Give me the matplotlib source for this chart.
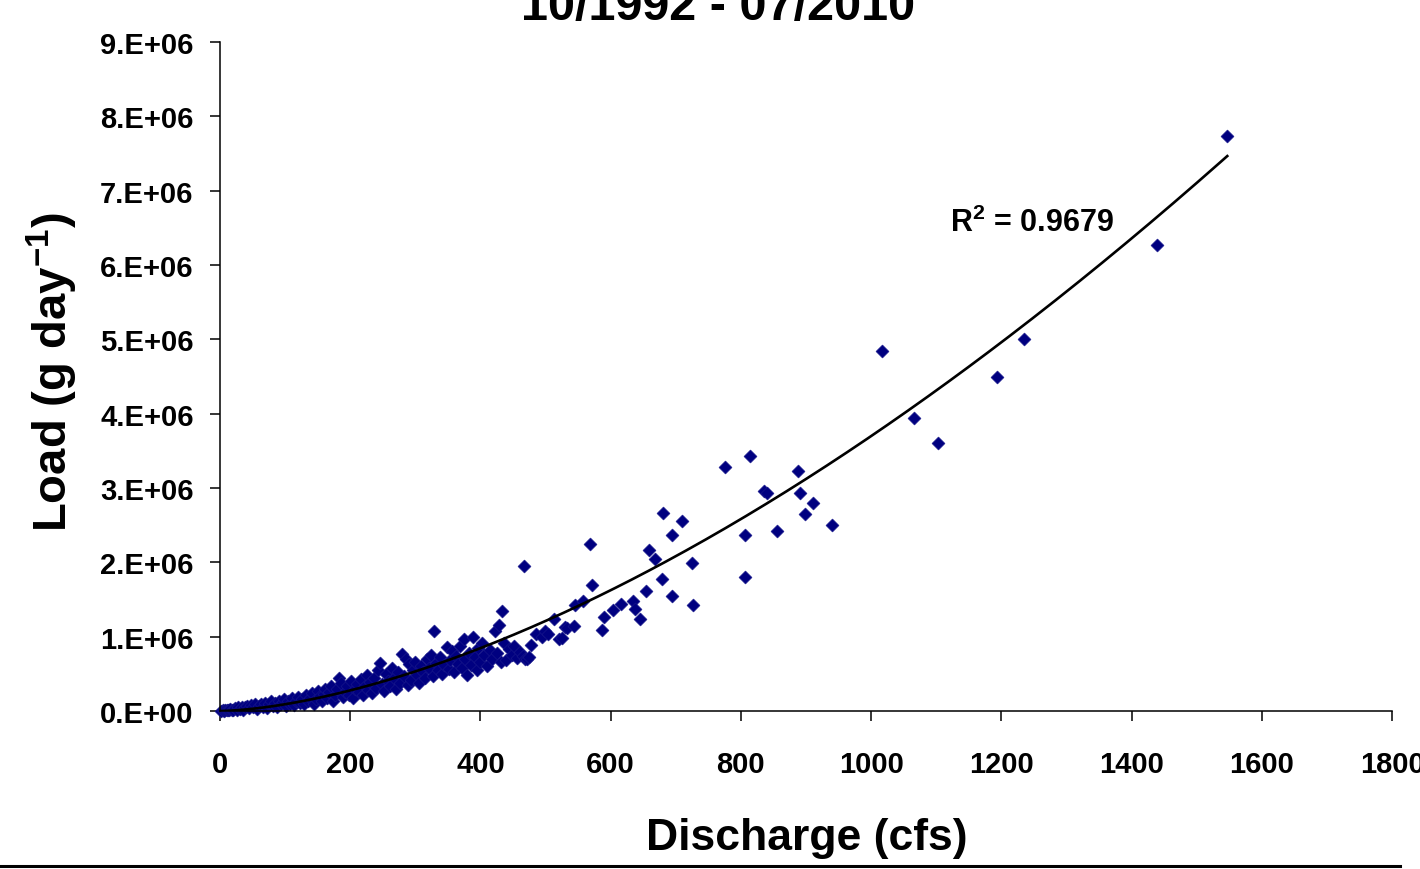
import matplotlib.pyplot as plt
from matplotlib.lines import Line2D
import numpy as np

plt.rcParams['font.family'] = ['Liberation Sans', 'DejaVu Sans']
plt.rcParams['font.weight'] = 'bold'
plt.rcParams['mathtext.fontset'] = 'custom'
plt.rcParams['mathtext.rm'] = 'Liberation Sans:bold'
plt.rcParams['mathtext.it'] = 'Liberation Sans:bold'
plt.rcParams['mathtext.bf'] = 'Liberation Sans:bold'
plt.rcParams['mathtext.default'] = 'bf'

# discharge (cfs) / load (million g per day)
discharge = [2, 4, 6, 8, 10, 12, 14, 16, 18, 20,
             23, 26, 28, 31, 34, 36, 39, 42, 45, 48,
             51, 54, 57, 60, 63, 66, 69, 72, 75, 78,
             81, 84, 87, 90, 93, 96, 99, 102, 105, 108,
             111, 114, 117, 120, 123, 126, 129, 132, 135, 138,
             141, 144, 147, 150, 153, 156, 159, 162, 165, 168,
             171, 174, 177, 180, 183, 186, 189, 192, 195, 198,
             201, 204, 207, 210, 213, 216, 219, 222, 225, 228,
             231, 234, 237, 240, 243, 246, 249, 252, 255, 258,
             261, 264, 267, 270, 273, 276, 279, 282, 285, 288,
             291, 294, 297, 300, 303, 306, 309, 312, 315, 318,
             321, 324, 327, 329, 332, 335, 338, 341, 344, 348,
             351, 354, 356, 359, 362, 365, 368, 371, 374, 376,
             379, 382, 385, 388, 391, 394, 397, 400, 403, 406,
             410, 414, 418, 422, 425, 428, 431, 433, 436, 440,
             444, 448, 451, 456, 461, 466, 468, 471, 474, 477,
             467, 486, 494, 499, 504, 513, 520, 525, 530, 533,
             543, 545, 558, 568, 571, 586, 589, 604, 616, 634,
             637, 645, 655, 659, 668, 679, 681, 694, 694, 710,
             725, 727, 776, 806, 806, 814, 835, 840, 855, 888,
             891, 899, 910, 940, 1017, 1066, 1102, 1194, 1235, 1439,
             1547]
load = [0.00, 0.01, 0.00, 0.01, 0.02, 0.01, 0.02, 0.03, 0.01, 0.02,
        0.04, 0.02, 0.05, 0.03, 0.06, 0.02, 0.05, 0.07, 0.04, 0.08,
        0.05, 0.09, 0.03, 0.07, 0.10, 0.06, 0.11, 0.04, 0.09, 0.13,
        0.07, 0.11, 0.05, 0.14, 0.09, 0.12, 0.16, 0.07, 0.13, 0.10,
        0.17, 0.08, 0.14, 0.19, 0.11, 0.16, 0.09, 0.21, 0.13, 0.18,
        0.24, 0.10, 0.16, 0.27, 0.20, 0.13, 0.23, 0.30, 0.17, 0.25,
        0.34, 0.14, 0.21, 0.29, 0.45, 0.38, 0.19, 0.26, 0.33, 0.22,
        0.40, 0.17, 0.30, 0.36, 0.25, 0.43, 0.21, 0.33, 0.48, 0.28,
        0.39, 0.24, 0.45, 0.31, 0.55, 0.65, 0.36, 0.27, 0.50, 0.40,
        0.33, 0.58, 0.44, 0.30, 0.52, 0.38, 0.77, 0.47, 0.70, 0.35,
        0.63, 0.42, 0.55, 0.66, 0.48, 0.38, 0.60, 0.52, 0.44, 0.70,
        0.58, 0.76, 0.47, 1.08, 0.64, 0.55, 0.72, 0.50, 0.62, 0.86,
        0.57, 0.68, 0.81, 0.52, 0.74, 0.63, 0.88, 0.58, 0.97, 0.70,
        0.49, 0.78, 0.62, 1.00, 0.73, 0.55, 0.85, 0.66, 0.92, 0.75,
        0.60, 0.82, 0.70, 1.08, 0.78, 1.16, 0.66, 1.34, 0.92, 0.68,
        0.84, 0.75, 0.88, 0.71, 0.80, 0.74, 0.70, 0.70, 0.72, 0.89,
        1.95, 1.04, 0.99, 1.08, 1.04, 1.24, 0.97, 0.98, 1.13, 1.11,
        1.15, 1.42, 1.48, 2.25, 1.70, 1.09, 1.27, 1.36, 1.44, 1.48,
        1.37, 1.24, 1.62, 2.17, 2.04, 1.78, 2.67, 2.37, 1.55, 2.55,
        1.99, 1.42, 3.28, 2.37, 1.80, 3.43, 2.96, 2.93, 2.42, 3.23,
        2.93, 2.65, 2.80, 2.50, 4.84, 3.94, 3.61, 4.49, 5.01, 6.27,
        7.74]

# power trendline  load = a * Q^b  (g/day)
trend_a = 54.7
trend_b = 1.61
r2_text = 'R$^2$ = 0.9679'

x_ticks = [0, 200, 400, 600, 800, 1000, 1200, 1400, 1600, 1800]
y_ticks = [0, 1e6, 2e6, 3e6, 4e6, 5e6, 6e6, 7e6, 8e6, 9e6]
y_labels = ['0.E+00', '1.E+06', '2.E+06', '3.E+06', '4.E+06',
            '5.E+06', '6.E+06', '7.E+06', '8.E+06', '9.E+06']

W, H = 1420, 870
fig = plt.figure(figsize=(W / 100, H / 100), dpi=100)
ax = fig.add_axes([220 / W, 1 - 712 / H, (1392 - 220) / W, (712 - 43) / H])

q = np.array(discharge)
ld = np.array(load) * 1e6
ax.scatter(q, ld, marker='D', s=44, color='#000080', edgecolors='#1a1a8c',
           linewidths=0.4, zorder=2, clip_on=False)

qq = np.linspace(q.min(), q.max(), 300)
ax.plot(qq, trend_a * qq ** trend_b, color='black', lw=1.9, zorder=3)

ax.text(1121, 6.46e6, r2_text, fontsize=22, fontweight='bold', va='baseline')

ax.set_xlim(0, 1800)
ax.set_ylim(0, 9e6)
ax.set_xticks(x_ticks)
ax.set_xticklabels([str(v) for v in x_ticks])
ax.set_yticks(y_ticks)
ax.set_yticklabels(y_labels)
ax.tick_params(axis='both', direction='out', length=7, width=1.1, labelsize=21)
ax.tick_params(axis='y', pad=12)
ax.tick_params(axis='x', pad=21)
for lab in ax.get_xticklabels() + ax.get_yticklabels():
    lab.set_fontweight('bold')
for s in ['top', 'right']:
    ax.spines[s].set_visible(False)
for s in ['left', 'bottom']:
    ax.spines[s].set_linewidth(1.1)

fig.text(807 / W, 1 - 850 / H, 'Discharge (cfs)', fontsize=32, fontweight='bold',
         ha='center', va='baseline')
fig.text(52 / W, 1 - 372 / H, 'Load (g day$^{-1}$)', fontsize=34, fontweight='bold',
         ha='center', va='center', rotation=90)
fig.text(718 / W, 1 - 20 / H, '10/1992 - 07/2010', fontsize=35, fontweight='bold',
         ha='center', va='baseline')

fig.add_artist(Line2D([0, 1400 / W], [1 - 867 / H, 1 - 867 / H], color='black', lw=2.2))

fig.savefig('out.png', dpi=100)
